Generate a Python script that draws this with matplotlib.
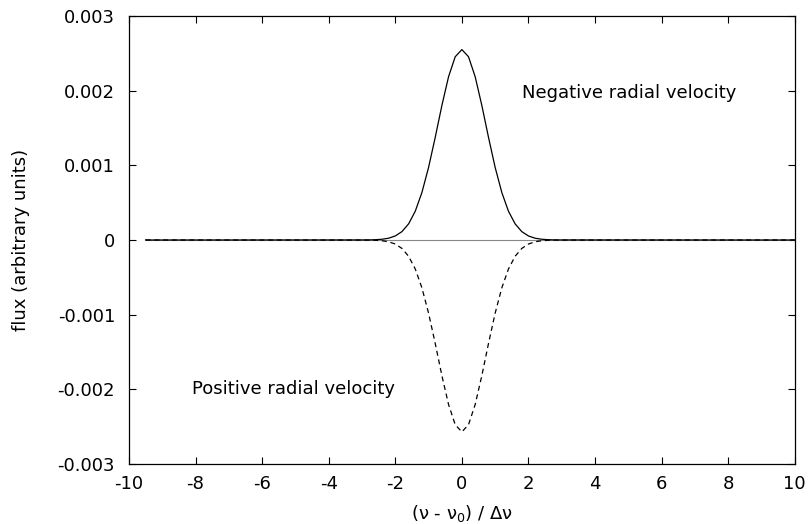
import matplotlib
matplotlib.use("Agg")
import matplotlib.pyplot as plt
import numpy as np

plt.rcParams['font.family'] = ['DejaVu Sans']
plt.rcParams['mathtext.fontset'] = 'dejavusans'

# Line profile (offset, flux)
x_core = [-2.8, -2.6, -2.4, -2.2, -2.0, -1.8, -1.6, -1.4, -1.2, -1.0, -0.8, -0.6, -0.4, -0.2, 0.0,
          0.2, 0.4, 0.6, 0.8, 1.0, 1.2, 1.4, 1.6, 1.8, 2.0, 2.2, 2.4, 2.6, 2.8]
neg_rv = [0.000001, 0.0000038, 0.0000099, 0.000024, 0.000054, 0.000112, 0.000216, 0.000385, 0.000636,
          0.000972, 0.001375, 0.001802, 0.002186, 0.002454, 0.002550,
          0.002454, 0.002186, 0.001802, 0.001375, 0.000972, 0.000636, 0.000385, 0.000216, 0.000112,
          0.000054, 0.000024, 0.0000099, 0.0000038, 0.000001]
pos_rv = [-0.000001, -0.0000038, -0.0000099, -0.000024, -0.000054, -0.000113, -0.000218, -0.000388, -0.000641,
          -0.000980, -0.001386, -0.001816, -0.002203, -0.002473, -0.002570,
          -0.002473, -0.002203, -0.001816, -0.001386, -0.000980, -0.000641, -0.000388, -0.000218, -0.000113,
          -0.000054, -0.000024, -0.0000099, -0.0000038, -0.000001]
x_start, x_end = -9.5, 10.0

x_full = [x_start] + x_core + [x_end]
neg_full = [0.0] + neg_rv + [0.0]
pos_full = [0.0] + pos_rv + [0.0]

x_ticks = [-10, -8, -6, -4, -2, 0, 2, 4, 6, 8, 10]
y_ticks = [-0.003, -0.002, -0.001, 0, 0.001, 0.002, 0.003]
y_labels = ['-0.003', '-0.002', '-0.001', '0', '0.001', '0.002', '0.003']

FS = 13

fig = plt.figure(figsize=(8.11, 5.24), dpi=100)
ax = fig.add_axes([0.159, 0.1145, 0.821, 0.855])

ax.plot([x_start, x_end], [0, 0], color='#888888', lw=0.8)
ax.plot(x_full, neg_full, color='black', lw=0.9)
ax.plot(x_full, pos_full, color='black', lw=0.9, dashes=(4, 3))

ax.set_xlim(-10, 10)
ax.set_ylim(-0.003, 0.003)
ax.set_xticks(x_ticks)
ax.set_xticklabels([str(t) for t in x_ticks])
ax.set_yticks(y_ticks)
ax.set_yticklabels(y_labels)
ax.tick_params(direction='in', length=5, width=0.8, top=True, right=True, labelsize=FS)
ax.tick_params(axis='x', pad=8)
ax.tick_params(axis='y', pad=10)
for s in ax.spines.values():
    s.set_linewidth(0.9)

ax.set_xlabel(r'(ν - ν$_{\mathregular{0}}$) / Δν', fontsize=FS)
ax.xaxis.set_label_coords(0.5, -0.088)
ax.set_ylabel('flux (arbitrary units)', fontsize=FS)
ax.yaxis.set_label_coords(-0.162, 0.5)
ax.yaxis.label.set_verticalalignment('center')

ax.text(1.8, 0.00197, 'Negative radial velocity', fontsize=FS, va='center', ha='left')
ax.text(-8.1, -0.002, 'Positive radial velocity', fontsize=FS, va='center', ha='left')

fig.savefig('out.png', dpi=100)
